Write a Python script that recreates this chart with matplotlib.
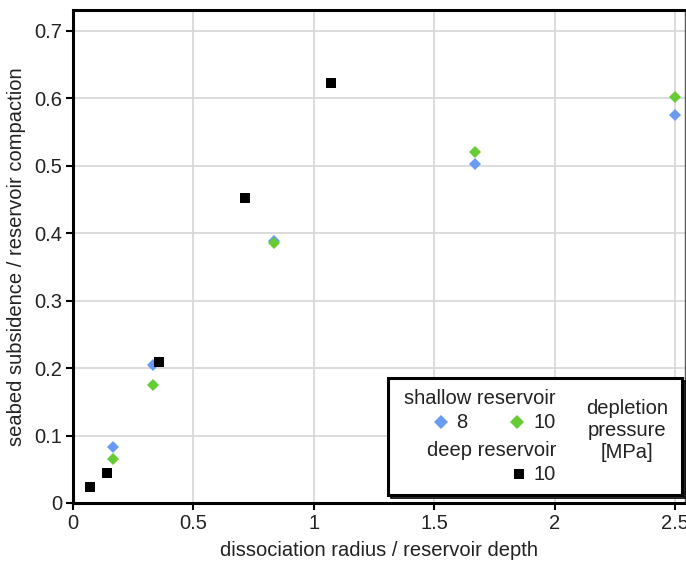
import matplotlib.pyplot as plt
from matplotlib.patches import Rectangle
from matplotlib.lines import Line2D

plt.rcParams['font.family'] = ['Liberation Sans', 'DejaVu Sans']

# data: dissociation radius / reservoir depth vs subsidence ratio
x_shallow = [1/6, 1/3, 5/6, 5/3, 2.5]
y_shallow_8 = [0.083, 0.204, 0.389, 0.503, 0.576]
y_shallow_10 = [0.065, 0.175, 0.385, 0.521, 0.602]
x_deep = [1/14, 1/7, 5/14, 5/7, 15/14]
y_deep_10 = [0.024, 0.044, 0.209, 0.452, 0.623]

x_ticks = [0, 0.5, 1, 1.5, 2, 2.5]
x_ticklabels = ['0', '0.5', '1', '1.5', '2', '2.5']
y_ticks = [0, 0.1, 0.2, 0.3, 0.4, 0.5, 0.6, 0.7]
y_ticklabels = ['0', '0.1', '0.2', '0.3', '0.4', '0.5', '0.6', '0.7']

blue = '#6A9BF4'
green = '#66CC33'
txt = '#222222'
fs = 14.5

W, H = 686, 567
fig = plt.figure(figsize=(W / 100, H / 100), dpi=100)
ax = fig.add_axes([73 / W, 1 - 503 / H, (685 - 73) / W, (503 - 10) / H])

ax.plot(x_shallow, y_shallow_8, 'D', color=blue, ms=6.3, mew=0, zorder=3)
ax.plot(x_shallow, y_shallow_10, 'D', color=green, ms=6.3, mew=0, zorder=3)
ax.plot(x_deep, y_deep_10, 's', color='black', ms=7, mew=0, zorder=3)

ax.set_xlim(0, 2.54)
ax.set_ylim(0, 0.731)
ax.set_xticks(x_ticks)
ax.set_xticklabels(x_ticklabels)
ax.set_yticks(y_ticks)
ax.set_yticklabels(y_ticklabels)
ax.grid(True, color='#D9D9D9', lw=1.3)
ax.set_axisbelow(True)
ax.tick_params(labelsize=fs, labelcolor=txt, length=5, width=1.5, color='black', pad=3)

for s in ['left', 'bottom', 'top']:
    ax.spines[s].set_linewidth(2.2)
    ax.spines[s].set_color('black')
ax.spines['right'].set_linewidth(1)
ax.spines['right'].set_color('#555555')

ax.set_xlabel('dissociation radius / reservoir depth', fontsize=fs, color=txt, labelpad=6)
ax.set_ylabel('seabed subsidence / reservoir compaction', fontsize=fs, color=txt, labelpad=6)

# custom legend box
def fx(px):
    return px / W

def fy(py):
    return 1 - py / H

shadow = Rectangle((fx(391), fy(498)), fx(682) - fx(388), fy(378) - fy(495),
                   transform=fig.transFigure, fill=False, ec='black', lw=1.2, zorder=9)
box = Rectangle((fx(388), fy(495)), fx(682) - fx(388), fy(378) - fy(495),
                transform=fig.transFigure, fc='white', ec='black', lw=2.2, zorder=10)
fig.add_artist(shadow)
fig.add_artist(box)

tk = dict(fontsize=fs, color=txt, zorder=11)
fig.text(fx(556), fy(398), 'shallow reservoir', ha='right', va='center', **tk)
fig.text(fx(456), fy(422), '8', ha='left', va='center', **tk)
fig.text(fx(556), fy(422), '10', ha='right', va='center', **tk)
fig.text(fx(556), fy(450), 'deep reservoir', ha='right', va='center', **tk)
fig.text(fx(556), fy(474), '10', ha='right', va='center', **tk)
fig.text(fx(627), fy(431), 'depletion\npressure\n[MPa]', ha='center', va='center',
         linespacing=1.2, **tk)

fig.add_artist(Line2D([fx(441)], [fy(422)], marker='D', color=blue, ms=7, mew=0,
                      transform=fig.transFigure, zorder=11))
fig.add_artist(Line2D([fx(517)], [fy(422)], marker='D', color=green, ms=7, mew=0,
                      transform=fig.transFigure, zorder=11))
fig.add_artist(Line2D([fx(519)], [fy(474)], marker='s', color='black', ms=7.5, mew=0,
                      transform=fig.transFigure, zorder=11))

fig.savefig('out.png', dpi=100)
